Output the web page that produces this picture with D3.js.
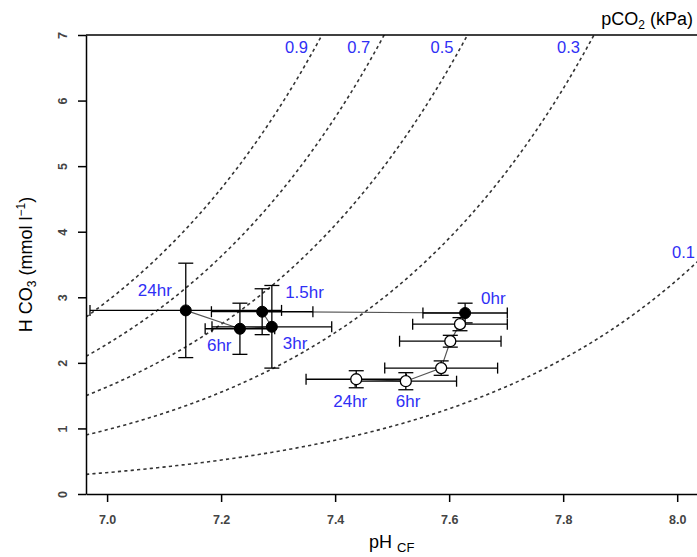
<!DOCTYPE html>
<html>
<head>
<meta charset="utf-8">
<script src="https://cdn.jsdelivr.net/npm/d3@7"></script>
<style>
  body { margin: 0; background: #fff; }
  svg { display: block; font-family: "Liberation Sans", Arial, Helvetica, sans-serif; }
</style>
</head>
<body>
<div id="chart"></div>
<script>
// pCO2 isopleths (kPa), HCO3 = pCO2 * 10^(pH - pK)
const pco2Levels = [0.1, 0.3, 0.5, 0.7, 0.9];
const pK = 6.486; // apparent pK incl. CO2 solubility

const xTicks = [7.0, 7.2, 7.4, 7.6, 7.8, 8.0];
const yTicks = [0, 1, 2, 3, 4, 5, 6, 7];

// closed symbols
const filledTime = ['0hr', '1.5hr', '3hr', '6hr', '24hr'];
const filledPH = [7.628, 7.272, 7.289, 7.233, 7.138];
const filledHCO3 = [2.76, 2.78, 2.55, 2.52, 2.80];
const filledPHErr = [0.074, 0.089, 0.105, 0.061, 0.168];
const filledHCO3Err = [0.15, 0.35, 0.63, 0.39, 0.72];

// open symbols (line starts from the shared 0hr point)
const openTime = ['', '', '', '6hr', '24hr'];
const openPH = [7.619, 7.602, 7.586, 7.524, 7.437];
const openHCO3 = [2.59, 2.33, 1.92, 1.72, 1.75];
const openPHErr = [0.083, 0.089, 0.099, 0.089, 0.088];
const openHCO3Err = [0.10, 0.09, 0.11, 0.13, 0.13];

const W = 697, H = 557;
const plot = { left: 86, right: 700, top: 35, bottom: 494 };

const x = d3.scaleLinear().domain([6.963, 8.04]).range([plot.left, plot.right]);
const y = d3.scaleLinear().domain([0, 7]).range([plot.bottom, plot.top]);

const svg = d3.select('#chart').append('svg')
    .attr('width', W)
    .attr('height', H);

svg.append('defs').append('clipPath').attr('id', 'plotclip')
    .append('rect')
    .attr('x', plot.left).attr('y', plot.top)
    .attr('width', plot.right - plot.left).attr('height', plot.bottom - plot.top);

// isopleths
const iso = svg.append('g').attr('clip-path', 'url(#plotclip)');
const line = d3.line().x(d => x(d[0])).y(d => y(d[1]));
pco2Levels.forEach(p => {
    const pts = d3.range(6.963, 8.045, 0.005).map(ph => [ph, p * Math.pow(10, ph - pK)]);
    iso.append('path')
        .attr('d', line(pts))
        .attr('fill', 'none')
        .attr('stroke', '#333')
        .attr('stroke-width', 1.6)
        .attr('stroke-dasharray', '3.2,3.2');
});

const blue = '#2f2ff5';
// isopleth labels
pco2Levels.forEach(p => {
    const phTop = pK + Math.log10(7 / p);
    const t = svg.append('text')
        .attr('fill', blue)
        .style('font-size', '16.5px')
        .text(p.toFixed(1));
    if (phTop < 8.04) {
        t.attr('x', x(phTop) - 14).attr('y', 53).attr('text-anchor', 'end');
    } else {
        const v = p * Math.pow(10, 8.04 - pK);
        t.attr('x', plot.right - 28).attr('y', y(v) - 1).attr('text-anchor', 'start');
    }
});

svg.append('text')
    .attr('x', 693).attr('y', 25)
    .attr('text-anchor', 'end')
    .style('font-size', '18px')
    .call(t => {
        t.append('tspan').text('pCO');
        t.append('tspan').attr('dy', 4).style('font-size', '12px').text('2');
        t.append('tspan').attr('dy', -4).text(' (kPa)');
    });

// axes
const xAxis = svg.append('g')
    .attr('transform', `translate(0,${plot.bottom})`)
    .call(d3.axisBottom(x).tickValues(xTicks).tickFormat(d3.format('.1f')).tickSize(8).tickSizeOuter(0));
xAxis.selectAll('text').attr('y', 30).attr('dy', 0);

const yAxis = svg.append('g')
    .attr('transform', `translate(${plot.left},0)`)
    .call(d3.axisLeft(y).tickValues(yTicks).tickFormat(d3.format('d')).tickSize(8).tickSizeOuter(0));
yAxis.selectAll('text')
    .attr('x', 0).attr('dy', 0)
    .attr('text-anchor', 'middle')
    .attr('transform', 'translate(-19,0) rotate(-90)');

[xAxis, yAxis].forEach(a => {
    a.selectAll('path, line').attr('stroke', '#000').attr('stroke-width', 1.5);
    a.selectAll('text').attr('fill', '#444').style('font-size', '12.5px')
        .style('font-weight', '600').style('font-family', 'inherit');
});

svg.append('line')
    .attr('x1', plot.left).attr('x2', plot.right)
    .attr('y1', plot.top).attr('y2', plot.top)
    .attr('stroke', '#000').attr('stroke-width', 1.5);

// axis titles
svg.append('text')
    .attr('transform', `translate(32,${(plot.top + plot.bottom) / 2}) rotate(-90)`)
    .attr('text-anchor', 'middle')
    .style('font-size', '18px')
    .call(t => {
        t.append('tspan').text('H CO');
        t.append('tspan').attr('dy', 4).style('font-size', '12px').text('3');
        t.append('tspan').attr('dy', -4).text(' (mmol l');
        t.append('tspan').attr('dy', -7).style('font-size', '12px').text('\u22121');
        t.append('tspan').attr('dy', 7).text(')');
    });

svg.append('text')
    .attr('x', 369).attr('y', 548)
    .style('font-size', '18px')
    .call(t => {
        t.append('tspan').text('pH ');
        t.append('tspan').attr('dy', 4).style('font-size', '13px').text('CF');
    });

// data
const filled = filledTime.map((t, i) => ({
    t, ph: filledPH[i], v: filledHCO3[i], ex: filledPHErr[i], ey: filledHCO3Err[i]
}));
const open = openTime.map((t, i) => ({
    t, ph: openPH[i], v: openHCO3[i], ex: openPHErr[i], ey: openHCO3Err[i]
}));

const g = svg.append('g');

// connecting lines
const conn = d3.line().x(d => x(d.ph)).y(d => y(d.v));
g.append('path').attr('d', conn([filled[0], ...open]))
    .attr('fill', 'none').attr('stroke', '#555').attr('stroke-width', 1.2);
g.append('path').attr('d', conn(filled))
    .attr('fill', 'none').attr('stroke', '#555').attr('stroke-width', 1.2);

function errorBars(data) {
    data.forEach(d => {
        const cx = x(d.ph), cy = y(d.v);
        const x0 = x(d.ph - d.ex), x1 = x(d.ph + d.ex);
        const y0 = y(d.v - d.ey), y1 = y(d.v + d.ey);
        const segs = [
            [x0, cy, x1, cy], [x0, cy - 5.5, x0, cy + 5.5], [x1, cy - 5.5, x1, cy + 5.5],
            [cx, y0, cx, y1], [cx - 7.5, y0, cx + 7.5, y0], [cx - 7.5, y1, cx + 7.5, y1]
        ];
        segs.forEach(s => {
            g.append('line')
                .attr('x1', s[0]).attr('y1', s[1]).attr('x2', s[2]).attr('y2', s[3])
                .attr('stroke', '#000').attr('stroke-width', 1.3);
        });
    });
}
errorBars(open);
errorBars(filled);

g.selectAll('.open').data(open).join('circle')
    .attr('class', 'open')
    .attr('cx', d => x(d.ph)).attr('cy', d => y(d.v)).attr('r', 5.5)
    .attr('fill', '#fff').attr('stroke', '#000').attr('stroke-width', 1.3);

g.selectAll('.filled').data(filled).join('circle')
    .attr('class', 'filled')
    .attr('cx', d => x(d.ph)).attr('cy', d => y(d.v)).attr('r', 5.5)
    .attr('fill', '#000').attr('stroke', '#000').attr('stroke-width', 1);

// time labels, offsets from their point in px
const filledOffsets = { '0hr': [16, -9], '1.5hr': [23, -14], '3hr': [11, 22], '6hr': [-33, 22], '24hr': [-48, -14] };
const openOffsets = { '6hr': [-10, 26], '24hr': [-23, 28] };

function timeLabels(data, offsets) {
    data.filter(d => offsets[d.t]).forEach(d => {
        svg.append('text')
            .attr('x', x(d.ph) + offsets[d.t][0])
            .attr('y', y(d.v) + offsets[d.t][1])
            .attr('fill', blue)
            .style('font-size', '17px')
            .text(d.t);
    });
}
timeLabels(filled, filledOffsets);
timeLabels(open, openOffsets);
</script>
</body>
</html>
